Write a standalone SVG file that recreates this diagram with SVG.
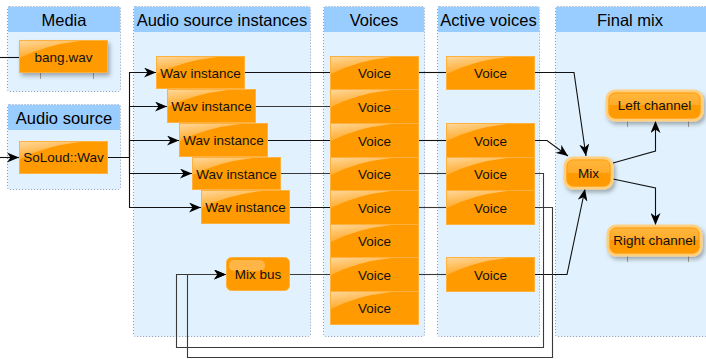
<svg xmlns="http://www.w3.org/2000/svg" width="706" height="359" viewBox="0 0 706 359">
<style>
.pb{fill:#e1f2fe;stroke:#8a98b8;stroke-width:1;stroke-dasharray:1 2}
.ph{fill:#99ccff}
.ht{font-family:"Liberation Sans",Arial,sans-serif;font-size:16.5px;fill:#000;text-anchor:middle}
.nt{font-family:"Liberation Sans",Arial,sans-serif;font-size:13.5px;fill:#111;text-anchor:middle}
.n{fill:#ff9a00;stroke:#ffb13f;stroke-width:1}
.hl{fill:url(#hl)}
.c{fill:none;stroke:#111;stroke-width:1.1}
.cg{fill:none;stroke:#3a3a3a;stroke-width:1.1}
.tk{stroke:#a0a0a0;stroke-width:1}
.g{fill:url(#gl);stroke:#ffcf80;stroke-width:3}
.gi{fill:none;stroke:#ff9f10;stroke-width:1}
</style>
<defs>
<linearGradient id="hl" x1="0" y1="0" x2="0.5" y2="1">
<stop offset="0" stop-color="#fff" stop-opacity="0.6"/>
<stop offset="1" stop-color="#fff" stop-opacity="0.08"/>
</linearGradient>
<linearGradient id="gl" x1="0" y1="0" x2="0" y2="1">
<stop offset="0" stop-color="#ffb83f"/>
<stop offset="0.5" stop-color="#ffab2a"/>
<stop offset="0.5" stop-color="#ff9a00"/>
<stop offset="1" stop-color="#ff9a00"/>
</linearGradient>
<filter id="sh" x="-20%" y="-20%" width="150%" height="160%">
<feDropShadow dx="2" dy="3" stdDeviation="2" flood-color="#000" flood-opacity="0.3"/>
</filter>
<marker id="ar" markerUnits="userSpaceOnUse" markerWidth="13" markerHeight="10" refX="12" refY="5" orient="auto">
<path d="M0,0 L12,5 L0,10 L3.5,5 Z" fill="#000"/>
</marker>
</defs>

<g id="panels">
<g id="lane-media">
<rect class="pb" x="7.5" y="6.5" width="113" height="85" rx="2"/>
<rect class="ph" x="8" y="7" width="112" height="25"/>
<text class="ht" x="64" y="25.5">Media</text>
</g>
<g id="lane-audio-source">
<rect class="pb" x="7.5" y="104.5" width="113" height="85" rx="2"/>
<rect class="ph" x="8" y="105" width="112" height="25"/>
<text class="ht" x="64" y="123.5">Audio source</text>
</g>
<g id="lane-instances">
<rect class="pb" x="133.5" y="6.5" width="177" height="330" rx="2"/>
<rect class="ph" x="134" y="7" width="176" height="25"/>
<text class="ht" x="222" y="25.5">Audio source instances</text>
</g>
<g id="lane-voices">
<rect class="pb" x="323.5" y="6.5" width="101" height="330" rx="2"/>
<rect class="ph" x="324" y="7" width="100" height="25"/>
<text class="ht" x="374" y="25.5">Voices</text>
</g>
<g id="lane-active">
<rect class="pb" x="437.5" y="6.5" width="102" height="330" rx="2"/>
<rect class="ph" x="438" y="7" width="101" height="25"/>
<text class="ht" x="488.5" y="25.5">Active voices</text>
</g>
<g id="lane-final">
<rect class="pb" x="555.5" y="6.5" width="160" height="330" rx="2"/>
<rect class="ph" x="556" y="7" width="160" height="25"/>
<text class="ht" x="630" y="25.5">Final mix</text>
</g>
</g>

<g id="connectors">
<path class="c" d="M0,57.5 L19,57.5"/>
<path class="c" d="M0,157.5 L19,157.5" marker-end="url(#ar)"/>
<path class="c" d="M107,157.5 H129.5 V72.5 H156" marker-end="url(#ar)"/>
<path class="c" d="M129.5,157.5 V106.5 H167" marker-end="url(#ar)"/>
<path class="c" d="M129.5,157.5 V140.5 H179" marker-end="url(#ar)"/>
<path class="c" d="M129.5,157.5 V173.5 H192" marker-end="url(#ar)"/>
<path class="c" d="M129.5,157.5 V207.5 H201" marker-end="url(#ar)"/>
<path class="c" d="M245,72.5 H330"/>
<path class="cg" d="M255,106.5 H330"/>
<path class="c" d="M267,140.5 H330"/>
<path class="cg" d="M280,173.5 H330"/>
<path class="c" d="M289,207.5 H330"/>
<path class="cg" d="M289,274.5 H330"/>
<path class="c" d="M418,72.5 H446"/>
<path class="c" d="M418,140.5 H446"/>
<path class="cg" d="M418,173.5 H446"/>
<path class="cg" d="M418,207.5 H446"/>
<path class="cg" d="M418,274.5 H446"/>
<path class="c" d="M534,72.5 H574 L586,156" marker-end="url(#ar)"/>
<path class="c" d="M534,140.5 H547 L568,156" marker-end="url(#ar)"/>
<path class="c" d="M534,274.5 H567 L585,189" marker-end="url(#ar)"/>
<path class="cg" d="M534,173.5 H543.5 V347.5 H176.5 V274.5 H226" marker-end="url(#ar)"/>
<path class="cg" d="M534,207.5 H552.5 V357.5 H187.5 V274.5 H226" marker-end="url(#ar)"/>
<path class="c" d="M613,163 L655.5,151 V121" marker-end="url(#ar)"/>
<path class="c" d="M613,179 L655.5,188 V225" marker-end="url(#ar)"/>
</g>

<g id="bang-wav">
<line class="tk" x1="40.5" y1="73" x2="40.5" y2="79"/>
<line class="tk" x1="93.5" y1="73" x2="93.5" y2="79"/>
<rect class="n" x="19.5" y="40.5" width="88" height="32" filter="url(#sh)"/>
<path class="hl" d="M20,41 H80 Q45,45 20,58 Z"/>
<text class="nt" x="63.5" y="61.5">bang.wav</text>
</g>
<g id="soloud-wav">
<rect class="n" x="19.5" y="141.5" width="88" height="32"/>
<path class="hl" d="M20,142 H80 Q45,146 20,159 Z"/>
<text class="nt" x="63.5" y="162">SoLoud::Wav</text>
</g>

<g id="wav-instance-1">
<rect class="n" x="156.5" y="56.5" width="88" height="32"/>
<path class="hl" d="M157,57 H217 Q182,61 157,74 Z"/>
<text class="nt" x="200.5" y="77.5">Wav instance</text>
</g>
<g id="wav-instance-2">
<rect class="n" x="167.5" y="89.5" width="88" height="33"/>
<path class="hl" d="M168,90 H228 Q193,94 168,107 Z"/>
<text class="nt" x="211.5" y="111">Wav instance</text>
</g>
<g id="wav-instance-3">
<rect class="n" x="179.5" y="123.5" width="88" height="33"/>
<path class="hl" d="M180,124 H240 Q205,128 180,141 Z"/>
<text class="nt" x="223.5" y="145">Wav instance</text>
</g>
<g id="wav-instance-4">
<rect class="n" x="192.5" y="157.5" width="88" height="32"/>
<path class="hl" d="M193,158 H253 Q218,162 193,175 Z"/>
<text class="nt" x="236.5" y="178.5">Wav instance</text>
</g>
<g id="wav-instance-5">
<rect class="n" x="201.5" y="190.5" width="88" height="33"/>
<path class="hl" d="M202,191 H262 Q227,195 202,208 Z"/>
<text class="nt" x="245.5" y="212">Wav instance</text>
</g>
<g id="mix-bus">
<rect class="n" x="226.5" y="257.5" width="63" height="33" rx="5"/>
<rect x="229" y="260" width="36" height="11" rx="5" fill="#fff" fill-opacity="0.28"/>
<text class="nt" x="258" y="279">Mix bus</text>
</g>

<g id="voice-1"><rect class="n" x="330.5" y="56.5" width="88" height="33"/><path class="hl" d="M331,57 H391 Q356,61 331,74 Z"/><text class="nt" x="374.5" y="78">Voice</text></g>
<g id="voice-2"><rect class="n" x="330.5" y="89.5" width="88" height="34"/><path class="hl" d="M331,90 H391 Q356,94 331,107 Z"/><text class="nt" x="374.5" y="111.5">Voice</text></g>
<g id="voice-3"><rect class="n" x="330.5" y="123.5" width="88" height="34"/><path class="hl" d="M331,124 H391 Q356,128 331,141 Z"/><text class="nt" x="374.5" y="145.5">Voice</text></g>
<g id="voice-4"><rect class="n" x="330.5" y="157.5" width="88" height="33"/><path class="hl" d="M331,158 H391 Q356,162 331,175 Z"/><text class="nt" x="374.5" y="179">Voice</text></g>
<g id="voice-5"><rect class="n" x="330.5" y="190.5" width="88" height="34"/><path class="hl" d="M331,191 H391 Q356,195 331,208 Z"/><text class="nt" x="374.5" y="212.5">Voice</text></g>
<g id="voice-6"><rect class="n" x="330.5" y="224.5" width="88" height="33"/><path class="hl" d="M331,225 H391 Q356,229 331,242 Z"/><text class="nt" x="374.5" y="246">Voice</text></g>
<g id="voice-7"><rect class="n" x="330.5" y="257.5" width="88" height="34"/><path class="hl" d="M331,258 H391 Q356,262 331,275 Z"/><text class="nt" x="374.5" y="279.5">Voice</text></g>
<g id="voice-8"><rect class="n" x="330.5" y="291.5" width="88" height="33"/><path class="hl" d="M331,292 H391 Q356,296 331,309 Z"/><text class="nt" x="374.5" y="313">Voice</text></g>

<g id="active-voice-1"><rect class="n" x="446.5" y="56.5" width="88" height="33"/><path class="hl" d="M447,57 H507 Q472,61 447,74 Z"/><text class="nt" x="490.5" y="78">Voice</text></g>
<g id="active-voice-2"><rect class="n" x="446.5" y="123.5" width="88" height="34"/><path class="hl" d="M447,124 H507 Q472,128 447,141 Z"/><text class="nt" x="490.5" y="145.5">Voice</text></g>
<g id="active-voice-3"><rect class="n" x="446.5" y="157.5" width="88" height="33"/><path class="hl" d="M447,158 H507 Q472,162 447,175 Z"/><text class="nt" x="490.5" y="179">Voice</text></g>
<g id="active-voice-4"><rect class="n" x="446.5" y="190.5" width="88" height="34"/><path class="hl" d="M447,191 H507 Q472,195 447,208 Z"/><text class="nt" x="490.5" y="212.5">Voice</text></g>
<g id="active-voice-5"><rect class="n" x="446.5" y="257.5" width="88" height="34"/><path class="hl" d="M447,258 H507 Q472,262 447,275 Z"/><text class="nt" x="490.5" y="279.5">Voice</text></g>

<g id="mix">
<rect class="g" x="565" y="158" width="47" height="30" rx="8" filter="url(#sh)"/>
<rect class="gi" x="567" y="160" width="43" height="26" rx="6"/>
<text class="nt" x="588.5" y="178">Mix</text>
</g>
<g id="left-channel">
<line class="tk" x1="627.5" y1="121" x2="627.5" y2="127"/>
<line class="tk" x1="688.5" y1="121" x2="688.5" y2="127"/>
<rect class="g" x="607" y="91" width="95" height="29" rx="8" filter="url(#sh)"/>
<rect class="gi" x="609" y="93" width="91" height="25" rx="6"/>
<text class="nt" x="654.5" y="110">Left channel</text>
</g>
<g id="right-channel">
<line class="tk" x1="627.5" y1="256" x2="627.5" y2="262"/>
<line class="tk" x1="688.5" y1="256" x2="688.5" y2="262"/>
<rect class="g" x="608" y="226" width="93" height="29" rx="8" filter="url(#sh)"/>
<rect class="gi" x="610" y="228" width="89" height="25" rx="6"/>
<text class="nt" x="654.5" y="245">Right channel</text>
</g>
</svg>
